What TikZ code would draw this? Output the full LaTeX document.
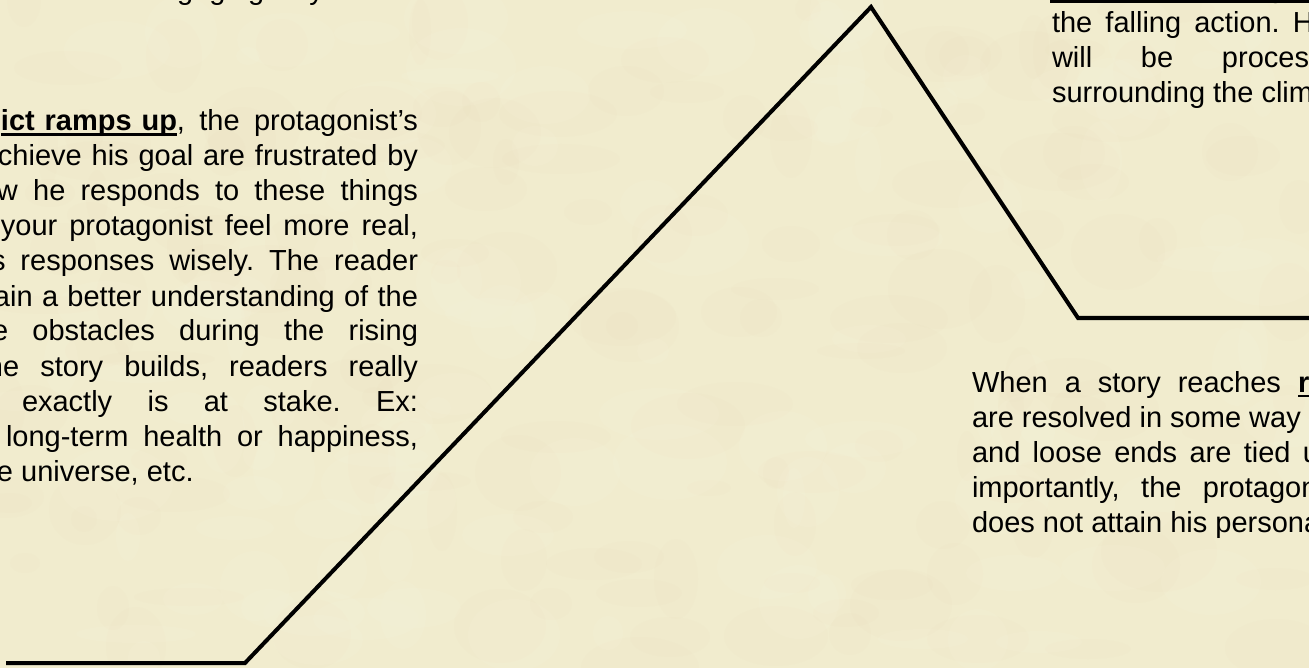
\documentclass[tikz,border=0pt]{standalone}
\usepackage{fontspec}
\setmainfont{Liberation Sans}
\definecolor{paper}{RGB}{241,236,206}
\definecolor{paperdark}{RGB}{222,212,172}
\definecolor{paperlight}{RGB}{250,247,228}
\newsavebox{\ulbox}
\newcommand{\myul}[1]{\sbox{\ulbox}{#1}\rlap{\rule[-5pt]{\wd\ulbox}{2.5pt}}\usebox{\ulbox}}
\newcommand{\jl}[2]{\makebox[#1pt][s]{#2}}
\frenchspacing
\begin{document}
\begin{tikzpicture}[x=1pt,y=-1pt,
  txt/.style={anchor=base west, inner sep=0pt, outer sep=0pt, font=\fontsize{29}{35}\selectfont, text=black},
  plotline/.style={line width=4pt, line join=miter, draw=black},
  blotch/.style={fill=paperdark, opacity=0.05},
  shine/.style={fill=paperlight, opacity=0.10}]
\useasboundingbox (0,0) rectangle (1309,668);
\fill[paper] (0,0) rectangle (1309,668);
\clip (0,0) rectangle (1309,668);
% paper texture
\pgfmathsetseed{11}
\foreach \i in {1,...,160}{
  \pgfmathsetmacro\xx{random(0,1309)}
  \pgfmathsetmacro\yy{random(0,668)}
  \pgfmathsetmacro\rx{random(10,60)}
  \pgfmathsetmacro\ry{random(8,40)}
  \fill[blotch] (\xx,\yy) ellipse [x radius=\rx, y radius=\ry];
}
\foreach \i in {1,...,120}{
  \pgfmathsetmacro\xx{random(0,1309)}
  \pgfmathsetmacro\yy{random(0,668)}
  \pgfmathsetmacro\rx{random(10,60)}
  \pgfmathsetmacro\ry{random(8,40)}
  \fill[shine] (\xx,\yy) ellipse [x radius=\rx, y radius=\ry];
}
% left block
\node[txt] (h0) at (145,0) {\jl{179}{engaging by}};
\node[txt] (l1) at (1,131) {\myul{\jl{176}{\bfseries ict ramps up}}\jl{241}{, the protagonist’s}};
\node[txt] (l2) at (-2,166) {\jl{420}{chieve his goal are frustrated by}};
\node[txt] (l3) at (-3,201) {\jl{421}{w he responds to these things}};
\node[txt] (l4) at (1,236) {\jl{417}{your protagonist feel more real,}};
\node[txt] (l5) at (-9,271) {\jl{427}{s responses wisely. The reader}};
\node[txt] (l6) at (-6,306) {\jl{424}{ain a better understanding of the}};
\node[txt] (l7) at (-8,341) {\jl{426}{e obstacles during the rising}};
\node[txt] (l8) at (-13,376) {\jl{431}{he story builds, readers really}};
\node[txt] (l9) at (22,411) {\jl{396}{exactly is at stake. Ex:}};
\node[txt] (l10) at (6,446) {\jl{412}{long-term health or happiness,}};
\node[txt] (l11) at (-3,481) {e universe, etc.};
% right top block
\node[txt] (r0) at (1050,-2) {\myul{\bfseries Tension is falling off}};
\node[txt] (r1) at (1052,33) {\jl{241}{the falling action. }H};
\node[txt] (r2) at (1052,68) {\jl{170}{will be }proces};
\node[txt] (r3) at (1052,103) {surrounding the clim};
% right bottom block
\node[txt] (b1) at (972,392) {\jl{326}{When a story reaches }\myul{\bfseries r}};
\node[txt] (b2) at (972,427) {are resolved in some way};
\node[txt] (b3) at (972,462) {\jl{331}{and loose ends are tied }u};
\node[txt] (b4) at (972,497) {\jl{231}{importantly, the }protagon};
\node[txt] (b5) at (972,532) {does not attain his persona};
% plot line
\coordinate (start) at (6,663);
\coordinate (incite) at (245,663);
\coordinate (climax) at (871,7);
\coordinate (resol) at (1078,318);
\coordinate (finish) at (1316,318);
\draw[plotline] (start) -- (incite) -- (climax) -- (resol) -- (finish);
\end{tikzpicture}
\end{document}
